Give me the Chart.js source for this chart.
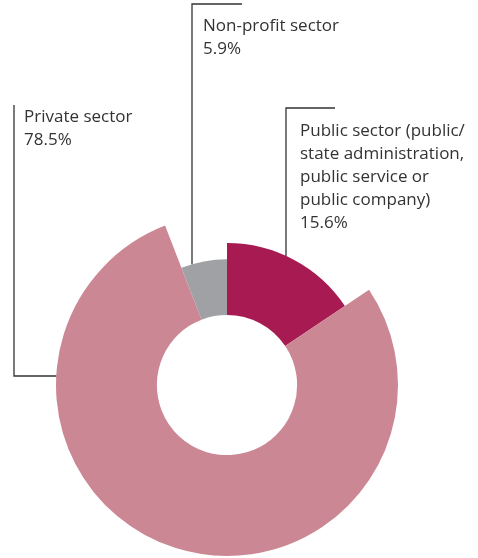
<!DOCTYPE html>
<html>
<head>
<meta charset="utf-8">
<script src="https://cdn.jsdelivr.net/npm/chart.js@4.4.1/dist/chart.umd.min.js"></script>
<style>
  html, body { margin: 0; padding: 0; background: #fff; }
  #wrap { width: 478px; height: 558px; }
</style>
</head>
<body>
<div id="wrap"><canvas id="sectorChart" width="478" height="558"></canvas></div>
<script>
const sectors = ["Public sector (public/ state administration, public service or public company)", "Private sector", "Non-profit sector"];
const shares = [15.6, 78.5, 5.9];
const labelLines = [
    ["Public sector (public/", "state administration,", "public service or", "public company)"],
    ["Private sector"],
    ["Non-profit sector"]
];

const colours = ["#a81a52", "#cc8794", "#9fa1a4"];
// each ring piece sticks out a different amount
const ringScale = [0.83, 1, 0.735];

const canvas = document.getElementById("sectorChart");

const shapeArcs = {
    id: "shapeArcs",
    afterDatasetsUpdate(chart) {
        const meta = chart.getDatasetMeta(0);
        meta.data.forEach((arc, i) => {
            arc.outerRadius = arc.outerRadius * ringScale[i];
        });
    }
};

// vertical x for a leader line hitting the arc rim
function rimY(arc, x) {
    const dx = x - arc.x;
    return arc.y - Math.sqrt(arc.outerRadius * arc.outerRadius - dx * dx);
}
function rimX(arc, y) {
    const dy = y - arc.y;
    return arc.x - Math.sqrt(arc.outerRadius * arc.outerRadius - dy * dy);
}

const leaders = {
    id: "leaders",
    afterDraw(chart) {
        const ctx = chart.ctx;
        const arcs = chart.getDatasetMeta(0).data;
        ctx.save();
        ctx.strokeStyle = "#333";
        ctx.lineWidth = 1.3;

        // public
        ctx.beginPath();
        ctx.moveTo(335, 108);
        ctx.lineTo(286, 108);
        ctx.lineTo(286, rimY(arcs[0], 286));
        ctx.stroke();

        // private
        ctx.beginPath();
        ctx.moveTo(14, 105);
        ctx.lineTo(14, 376);
        ctx.lineTo(rimX(arcs[1], 376), 376);
        ctx.stroke();

        // non-profit
        ctx.beginPath();
        ctx.moveTo(242, 4);
        ctx.lineTo(192, 4);
        ctx.lineTo(192, rimY(arcs[2], 192));
        ctx.stroke();

        ctx.fillStyle = "#333";
        ctx.font = "17px 'Open Sans'";
        ctx.textBaseline = "alphabetic";
        const spots = [[300, 136], [24, 122], [203, 31]];
        labelLines.forEach((lines, i) => {
            const [x, y] = spots[i];
            const all = lines.concat([shares[i].toFixed(1) + "%"]);
            all.forEach((t, j) => ctx.fillText(t, x, y + j * 23));
        });
        ctx.restore();
    }
};

new Chart(canvas.getContext("2d"), {
    type: "doughnut",
    data: {
        labels: sectors,
        datasets: [{
            data: shares,
            backgroundColor: colours,
            borderWidth: 0
        }]
    },
    options: {
        responsive: false,
        animation: false,
        cutout: "41%",
        layout: { padding: { left: 56, right: 80, top: 214, bottom: 2 } },
        plugins: {
            legend: { display: false },
            tooltip: { enabled: false }
        }
    },
    plugins: [shapeArcs, leaders]
});
</script>
</body>
</html>
